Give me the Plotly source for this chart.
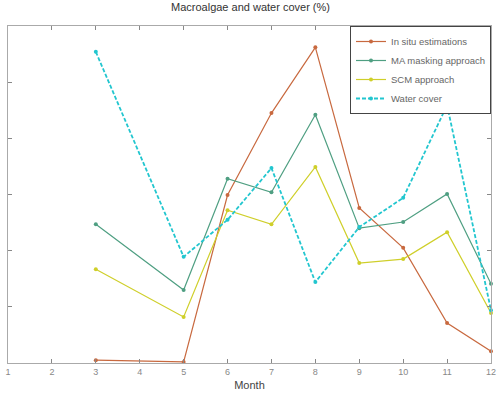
import plotly.graph_objects as go

months = [3, 5, 6, 7, 8, 9, 10, 11, 12]
in_situ = [0.5, 0.2, 29.9, 44.5, 56.2, 27.6, 20.5, 7.1, 2.1]
ma_masking = [24.7, 13.0, 32.8, 30.4, 44.2, 24.0, 25.1, 30.1, 14.1]
scm = [16.7, 8.2, 27.2, 24.7, 34.9, 17.8, 18.5, 23.3, 8.9]
water = [55.4, 18.9, 25.5, 34.7, 14.4, 24.2, 29.4, 45.9, 9.4]
x_ticks = list(range(1, 13))

series = [
    ("In situ estimations", in_situ, "#c8693f", "solid"),
    ("MA masking approach", ma_masking, "#4f9f82", "solid"),
    ("SCM approach", scm, "#cfcf2a", "solid"),
    ("Water cover", water, "#22c6cf", "4px,2px"),
]

fig = go.Figure()
for name, vals, color, dash in series:
    fig.add_trace(go.Scatter(
        x=months, y=vals, name=name, mode="lines+markers", cliponaxis=False,
        line=dict(color=color, width=1.2 if dash == "solid" else 1.8, dash=dash),
        marker=dict(color=color, size=4),
    ))

fig.update_layout(
    width=501, height=400,
    margin=dict(l=8, r=5, t=26, b=37),
    paper_bgcolor="white", plot_bgcolor="white",
    font=dict(family="Liberation Sans", size=9, color="#555"),
    title=dict(text="Macroalgae and water cover (%)", x=0.5, xanchor="center",
               y=0.992, yanchor="top", font=dict(size=11, color="#333")),
    showlegend=True,
    legend=dict(x=1, xanchor="right", y=1, yanchor="top",
                bordercolor="#444", borderwidth=1, bgcolor="white",
                font=dict(size=9.5, color="#666"), tracegroupgap=0),
    xaxis=dict(range=[1, 12], tickvals=x_ticks, ticks="inside", ticklen=4,
               showgrid=False, zeroline=False, showline=True, linecolor="#aaa",
               linewidth=1.2, mirror="ticks", tickcolor="#888",
               ticklabeloverflow="allow",
               tickfont=dict(size=9, color="#888"),
               title=dict(text="Month", font=dict(size=11, color="#444"), standoff=5)),
    yaxis=dict(range=[0, 60], dtick=10, ticks="inside", ticklen=4,
               showticklabels=False, showgrid=False, zeroline=False,
               showline=True, linecolor="#aaa", linewidth=1.2, mirror="ticks",
               tickcolor="#888"),
)

fig.write_html("out.html", config={"displayModeBar": False},
               post_script="document.body.style.margin='0';")
